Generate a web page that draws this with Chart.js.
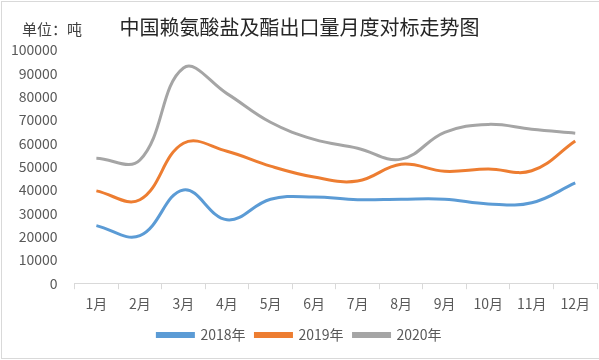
<!DOCTYPE html>
<html>
<head>
<meta charset="utf-8">
<script src="https://cdn.jsdelivr.net/npm/chart.js@4"></script>
<style>
  html, body { margin: 0; padding: 0; background: #fff; }
  #wrap { position: relative; width: 597px; height: 356px; border: 1px solid #d9d9d9; margin: 1px; }
  #unit { position: absolute; left: 20px; top: 16px; font: 15px "Noto Sans CJK SC", sans-serif; color: #404040; }
</style>
</head>
<body>
<div id="wrap">
  <div id="unit">单位：吨</div>
  <canvas id="price-chart" width="597" height="356"></canvas>
</div>
<script>
var months = ['1月', '2月', '3月', '4月', '5月', '6月', '7月', '8月', '9月', '10月', '11月', '12月'];
var y2018 = [24700, 20400, 40000, 27200, 36000, 37000, 35800, 36000, 36000, 34000, 34500, 43000];
var y2019 = [39600, 35800, 60000, 56600, 50200, 45500, 43800, 51000, 48000, 49000, 48200, 61000];
var y2020 = [53600, 52800, 92300, 81300, 69000, 61700, 57900, 53200, 64700, 68100, 66000, 64300];

var tickFont = { family: '"Noto Sans CJK SC", sans-serif', size: 14 };

var ctx = document.getElementById('price-chart').getContext('2d');

new Chart(ctx, {
  type: 'line',
  data: {
    labels: months,
    datasets: [{
      label: '2018年',
      borderColor: '#5b9bd5',
      backgroundColor: '#5b9bd5',
      data: y2018
    }, {
      label: '2019年',
      borderColor: '#ed7d31',
      backgroundColor: '#ed7d31',
      data: y2019
    }, {
      label: '2020年',
      borderColor: '#a5a5a5',
      backgroundColor: '#a5a5a5',
      data: y2020
    }]
  },
  options: {
    responsive: false,
    animation: false,
    elements: {
      line: { borderWidth: 3, tension: 0.4, capBezierPoints: true },
      point: { radius: 0 }
    },
    layout: { padding: { left: 0, right: 2, top: 0, bottom: 6 } },
    scales: {
      x: {
        offset: true,
        grid: { offset: true, drawOnChartArea: false, color: '#d9d9d9', tickLength: 6 },
        border: { color: '#d9d9d9' },
        ticks: { color: '#595959', font: tickFont, padding: 6 }
      },
      y: {
        min: 0,
        max: 100000,
        grid: { display: false },
        border: { display: false },
        ticks: {
          stepSize: 10000,
          color: '#595959',
          font: tickFont,
          padding: 9,
          callback: function (v) { return String(v); }
        }
      }
    },
    plugins: {
      title: {
        display: true,
        text: '中国赖氨酸盐及酯出口量月度对标走势图',
        color: '#262626',
        font: { family: '"Noto Sans CJK SC", sans-serif', size: 20, weight: 'normal' },
        padding: { top: 13, bottom: 11 }
      },
      legend: {
        position: 'bottom',
        labels: {
          color: '#595959',
          font: tickFont,
          boxWidth: 36,
          boxHeight: 3,
          padding: 10
        }
      }
    }
  }
});
</script>
</body>
</html>
